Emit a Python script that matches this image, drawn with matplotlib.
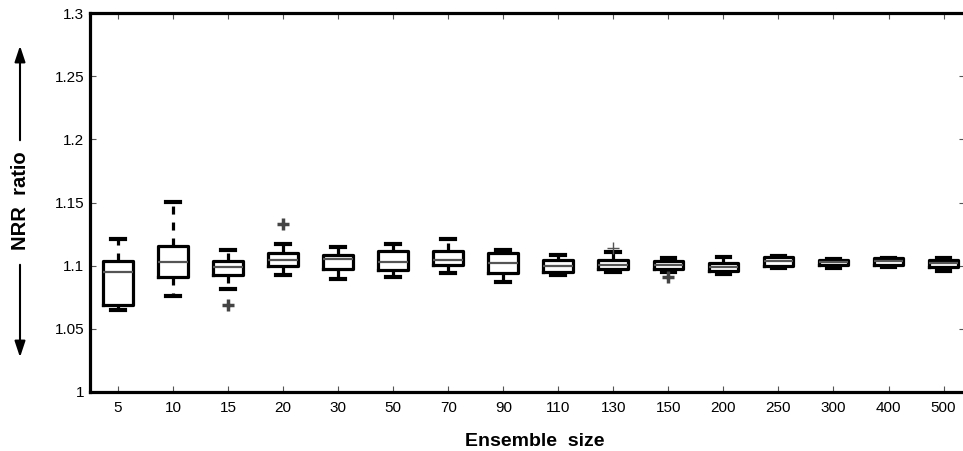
import matplotlib
matplotlib.use('Agg')
import matplotlib.pyplot as plt

plt.rcParams['font.family'] = ['Liberation Sans', 'DejaVu Sans']

# ensemble sizes and box statistics
sizes = ['5', '10', '15', '20', '30', '50', '70', '90',
         '110', '130', '150', '200', '250', '300', '400', '500']
medians = [1.0951, 1.1031, 1.0991, 1.1044, 1.1050, 1.1026, 1.1044, 1.1023,
           1.0997, 1.1005, 1.1003, 1.0989, 1.1036, 1.1025, 1.1035, 1.1018]
q1 = [1.0687, 1.0907, 1.0925, 1.0997, 1.0973, 1.0965, 1.1005, 1.0939,
      1.0951, 1.0970, 1.0970, 1.0957, 1.0999, 1.1005, 1.1005, 1.0991]
q3 = [1.1037, 1.1155, 1.1039, 1.1097, 1.1081, 1.1116, 1.1118, 1.1097,
      1.1044, 1.1044, 1.1039, 1.1018, 1.1070, 1.1044, 1.1058, 1.1044]
whis_lo = [1.0648, 1.0759, 1.0812, 1.0925, 1.0891, 1.0907, 1.0939, 1.0872,
           1.0925, 1.0947, 1.0950, 1.0931, 1.0978, 1.0978, 1.0991, 1.0959]
whis_hi = [1.1208, 1.1504, 1.1123, 1.1171, 1.1145, 1.1171, 1.1208, 1.1123,
           1.1084, 1.1105, 1.1058, 1.1066, 1.1075, 1.1050, 1.1060, 1.1062]
outliers = [[], [], [1.0687], [1.1327], [], [], [], [],
            [], [], [1.0907], [], [], [], [], []]
# faint outlier drawn thinner in the original
faint_outliers = [[], [], [], [], [], [], [], [],
                  [], [1.1140], [], [], [], [], [], []]

stats = []
for i in range(len(sizes)):
    stats.append({'med': medians[i], 'q1': q1[i], 'q3': q3[i],
                  'whislo': whis_lo[i], 'whishi': whis_hi[i],
                  'fliers': outliers[i], 'label': sizes[i]})

fig = plt.figure(figsize=(9.63, 4.51), dpi=100)
ax = fig.add_axes([90 / 963, 1 - 391.7 / 451, 875 / 963, 378.4 / 451])

ax.bxp(stats, widths=0.54, showfliers=True,
       boxprops=dict(color='black', linewidth=2.3),
       whiskerprops=dict(color='black', linewidth=2.3, linestyle=(0, (2.5, 2.5))),
       capprops=dict(color='black', linewidth=3.0),
       medianprops=dict(color='#555555', linewidth=1.6),
       flierprops=dict(marker='+', markeredgecolor='#444444', markersize=8,
                       markeredgewidth=2.5),
       capwidths=0.25)

for i, vals in enumerate(faint_outliers):
    if vals:
        ax.plot([i + 1] * len(vals), vals, linestyle='none', marker='+',
                markersize=9, markeredgewidth=1.0, markeredgecolor='#555555')

ax.set_xlim(0.49, 16.39)
ax.set_ylim(1.0, 1.3)
ax.set_yticks([1.0, 1.05, 1.1, 1.15, 1.2, 1.25, 1.3])
ax.set_yticklabels(['1', '1.05', '1.1', '1.15', '1.2', '1.25', '1.3'])

for s in ax.spines.values():
    s.set_linewidth(2.3)
ax.tick_params(direction='in', length=4.5, width=0.8, color='#555555',
               labelsize=11, top=True, right=True)
ax.tick_params(axis='y', pad=4)
ax.tick_params(axis='x', pad=7)

fig.text(535 / 963, 1 - 441 / 451, 'Ensemble  size', fontsize=14,
         fontweight='bold', ha='center', va='center')
fig.text(21 / 963, 1 - 201 / 451, 'NRR  ratio', fontsize=14.5,
         fontweight='bold', rotation=90, ha='center', va='center')
# arrows beside the y label
ax.annotate('', xy=(20 / 963, 1 - 43 / 451), xytext=(20 / 963, 1 - 143 / 451),
            xycoords='figure fraction', textcoords='figure fraction',
            arrowprops=dict(arrowstyle='-|>,head_length=0.6,head_width=0.2',
                            color='black', lw=1.5, mutation_scale=16))
ax.annotate('', xy=(20 / 963, 1 - 360 / 451), xytext=(20 / 963, 1 - 262 / 451),
            xycoords='figure fraction', textcoords='figure fraction',
            arrowprops=dict(arrowstyle='-|>,head_length=0.6,head_width=0.2',
                            color='black', lw=1.5, mutation_scale=16))

fig.savefig('out.png', dpi=100)
